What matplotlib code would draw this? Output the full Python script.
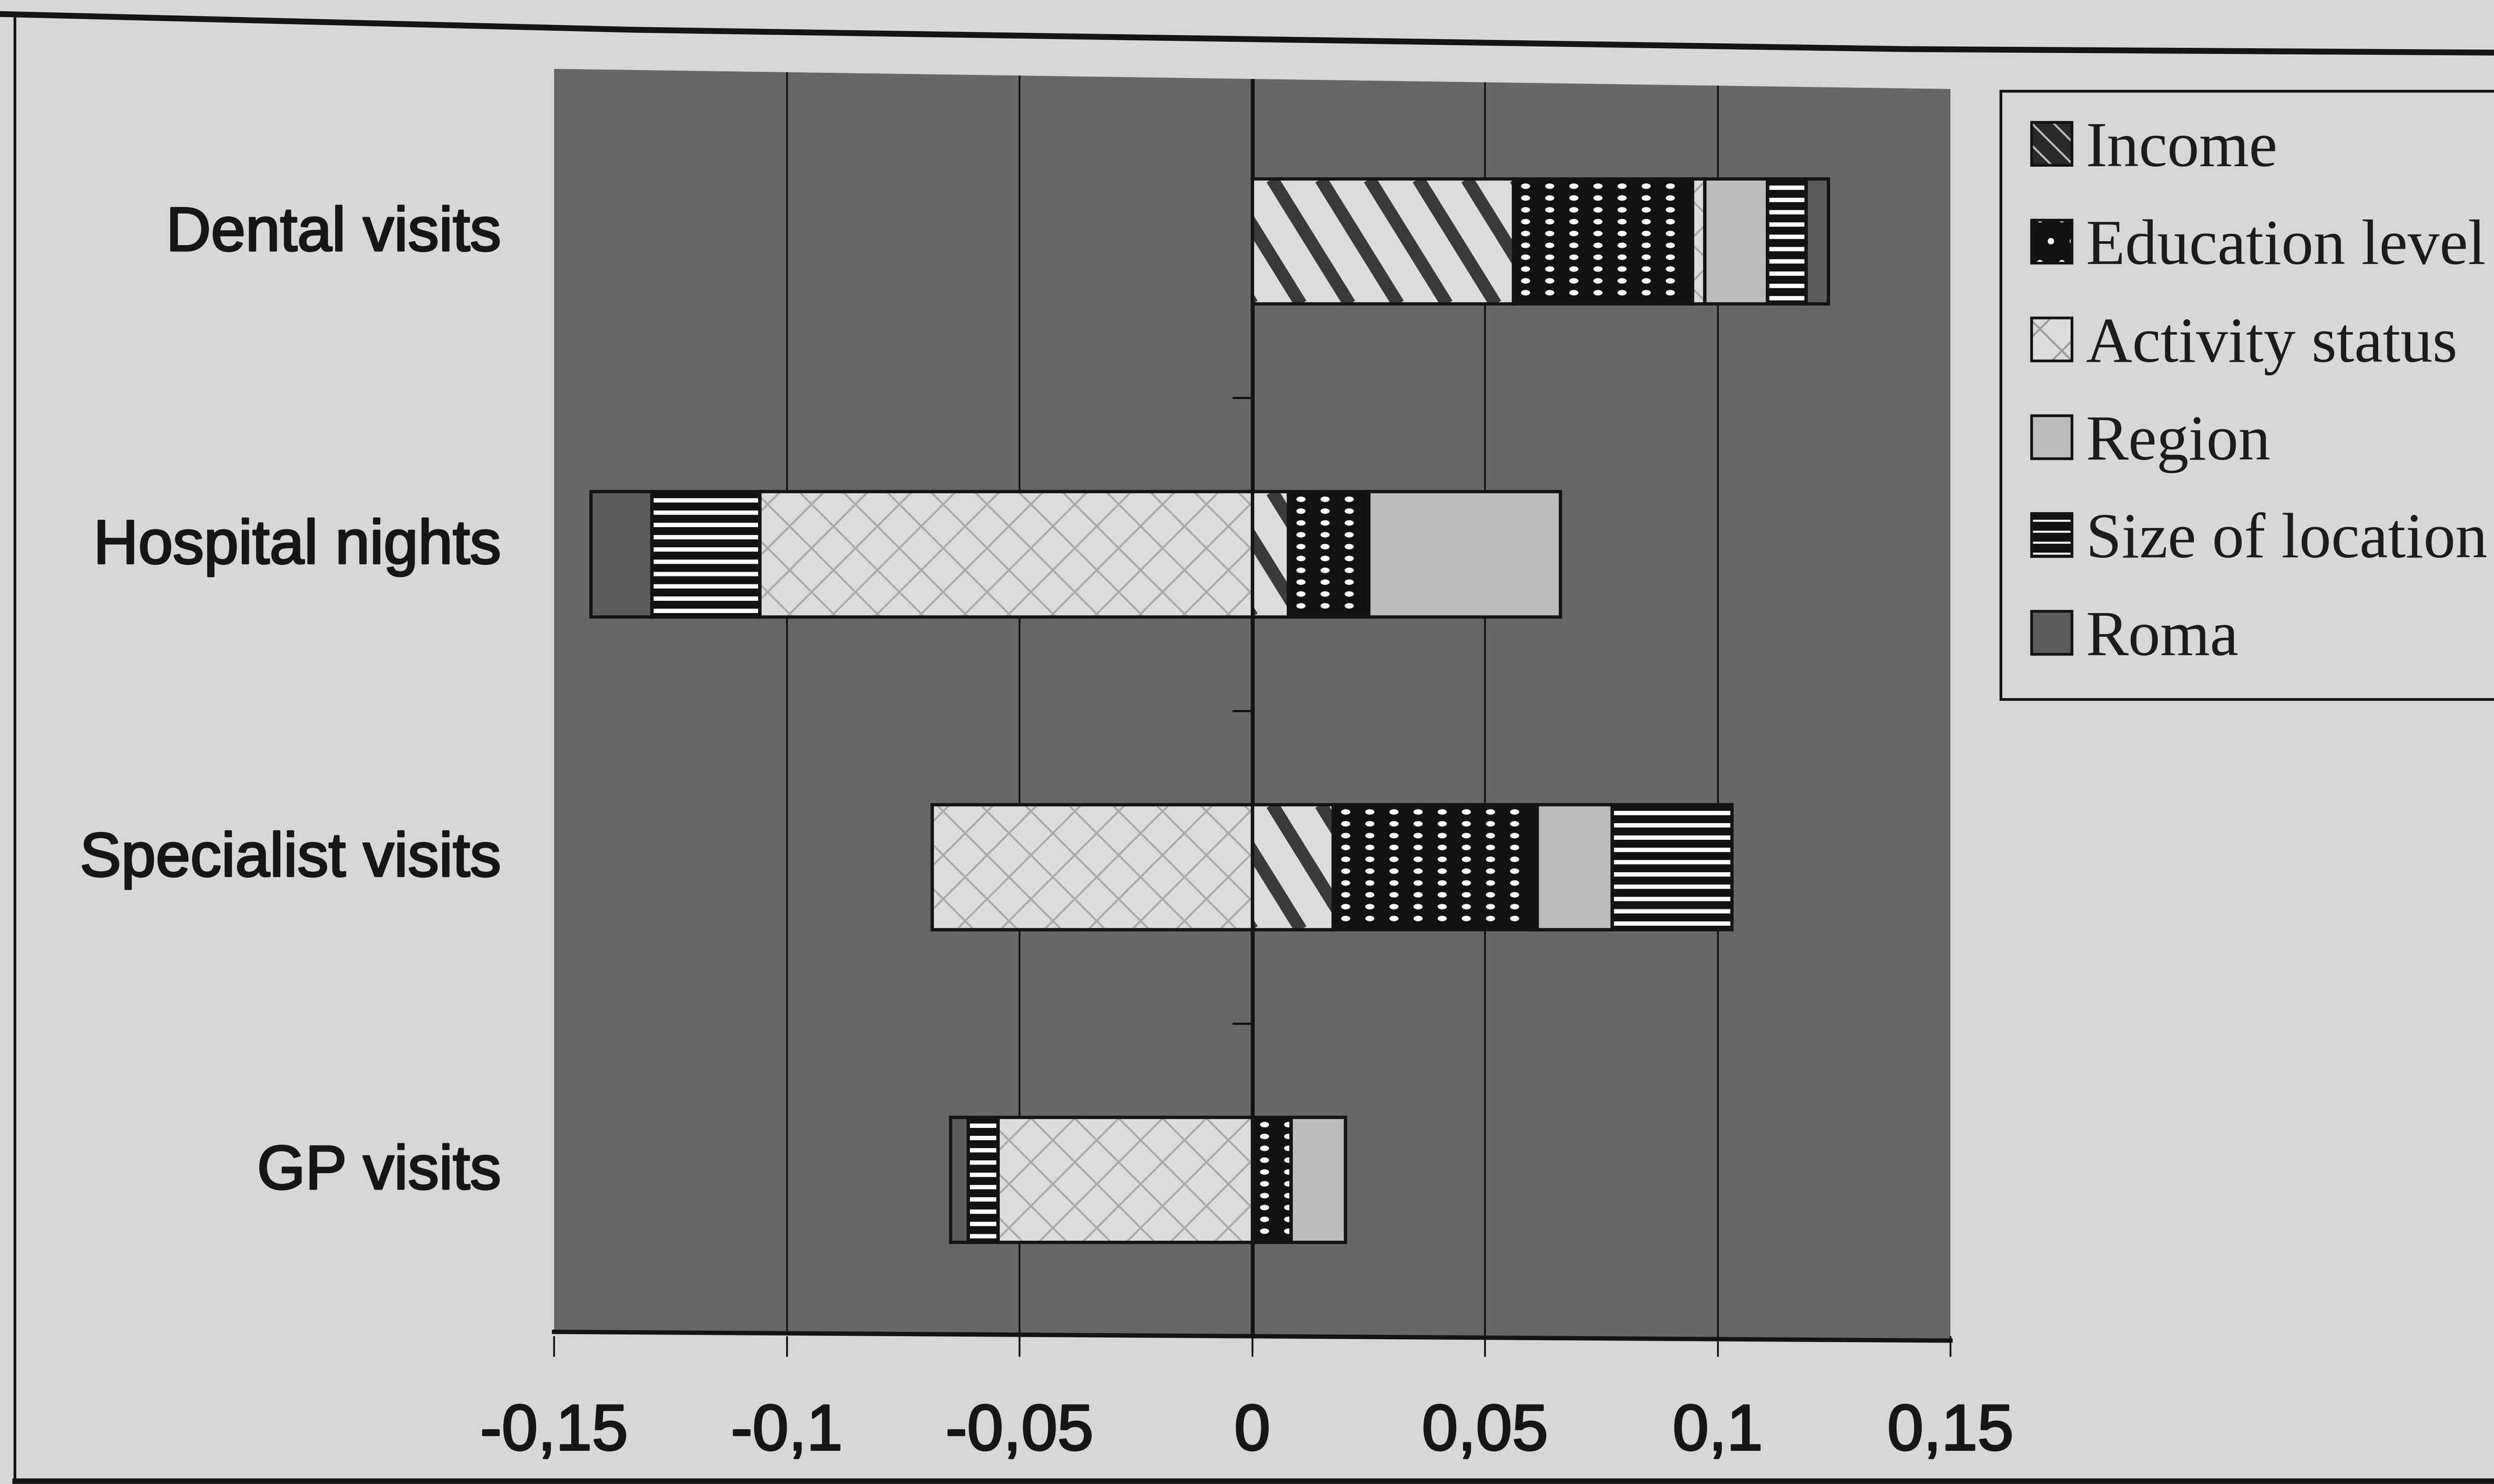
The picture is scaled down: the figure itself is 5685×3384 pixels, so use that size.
import numpy as np
import matplotlib
matplotlib.use("Agg")
import matplotlib.pyplot as plt
import matplotlib.markers as mmarkers
import matplotlib.patheffects as pe
from matplotlib import font_manager
from matplotlib.font_manager import FontProperties
from matplotlib.patches import Polygon, Patch
from matplotlib.collections import LineCollection
from matplotlib.lines import Line2D
from matplotlib.path import Path
from matplotlib.transforms import IdentityTransform, ScaledTranslation

# ---- data (contributions by factor, stacked left/right of zero) ----
categories = ["GP visits", "Specialist visits", "Hospital nights", "Dental visits"]
series_names = ["Income", "Education level", "Activity status", "Region",
                "Size of location", "Roma"]
income     = [0.0,     0.0174,  0.0078,  0.0561]
education  = [0.0083,  0.0438,  0.0172,  0.0385]
activity   = [-0.0546, -0.0688, -0.1058, 0.0026]
region     = [0.0117,  0.0161,  0.0412,  0.0135]
size_loc   = [-0.0064, 0.0258,  -0.0232, 0.0083]
roma       = [-0.0038, 0.0,     -0.0131, 0.0048]
xticks = [-0.15, -0.1, -0.05, 0, 0.05, 0.1, 0.15]
xtick_labels = ["-0,15", "-0,1", "-0,05", "0", "0,05", "0,1", "0,15"]

W, H, DPI = 5685, 3384, 300
PAGE = "#d7d7d7"
PLOT_BG = "#676767"
INK = "#141414"
LIGHT = "#dcdcdc"

plt.rcParams["hatch.linewidth"] = 1.1


def have_font(name):
    try:
        font_manager.findfont(FontProperties(family=name),
                              fallback_to_default=False)
        return True
    except Exception:
        return False


if have_font("Liberation Sans Narrow"):
    CAT_FONT, CAT_SIZE = "Liberation Sans Narrow", 40
else:
    CAT_FONT, CAT_SIZE = "Liberation Sans", 34

fig = plt.figure(figsize=(W / DPI, H / DPI), dpi=DPI, facecolor=PAGE)


def fx(px):
    return px / W


def fy(py):
    return 1 - py / H


# plot area
ax = fig.add_axes([fx(1263), fy(3047), fx(4446) - fx(1263), (3047 - 155) / H])
ax.patch.set_visible(False)
ax.set_xlim(-0.15, 0.15)
ax.set_ylim(-0.5, 3.555)
ax.set_autoscale_on(False)
for s in ax.spines.values():
    s.set_visible(False)

plot_bg = Polygon([(fx(1263), fy(157)), (fx(4446), fy(203)),
                   (fx(4446), fy(3057)), (fx(1263), fy(3037))],
                  closed=True, transform=fig.transFigure,
                  facecolor=PLOT_BG, edgecolor="none", zorder=-1)
fig.add_artist(plot_bg)

# gridlines and the zero axis
grid = ax.vlines([-0.1, -0.05, 0.05, 0.1], -0.5, 3.555, colors=INK,
                 linewidth=1.0, zorder=0.5)
grid.set_clip_path(plot_bg)
zero = ax.vlines([0], -0.5, 3.555, colors=INK, linewidth=2.2, zorder=0.6)
zero.set_clip_path(plot_bg)
ax.plot([0, 0, 0], [0.5, 1.5, 2.5], ls="none", marker=mmarkers.TICKLEFT,
        ms=11, mew=1.2, color=INK, zorder=0.7)

# bottom axis line
fig.add_artist(Line2D([fx(1263), fx(4446)], [fy(3037), fy(3057)],
                      color=INK, lw=2.4, transform=fig.transFigure))


# ---- textures drawn inside bar segments ----
def add_diagonals(patch, spacing=111, shift_ratio=157 / 253, lw=7.0,
                  color="#3a3a3a"):
    bb = patch.get_window_extent()
    h = bb.y1 - bb.y0
    shift = shift_ratio * h
    xs = np.arange(bb.x0 - shift - spacing, bb.x1 + spacing, spacing)
    segs = [[(x, bb.y1), (x + shift, bb.y0)] for x in xs]
    lc = LineCollection(segs, colors=color, linewidths=lw,
                        transform=IdentityTransform(), zorder=2.5)
    ax.add_collection(lc, autolim=False)
    lc.set_clip_path(patch)


def add_hstripes(patch, spacing=28, lw=2.4, color="white"):
    bb = patch.get_window_extent()
    ys = np.arange(bb.y1 - spacing * 0.7, bb.y0 + 4, -spacing)
    segs = [[(bb.x0, yy), (bb.x1, yy)] for yy in ys]
    lc = LineCollection(segs, colors=color, linewidths=lw,
                        transform=IdentityTransform(), zorder=2.5)
    ax.add_collection(lc, autolim=False)
    lc.set_clip_path(patch)


_circle = Path.unit_circle()
DOT = Path(_circle.vertices * np.array([1.0, 0.6]), _circle.codes)


def add_dots(patch, dx=55, dy=27, size=5.0, color="white"):
    bb = patch.get_window_extent()
    xs = np.arange(bb.x0 + dx * 0.5, bb.x1 - 4, dx)
    ys = np.arange(bb.y1 - dy * 0.6, bb.y0 + 4, -dy)
    if len(xs) == 0 or len(ys) == 0:
        return
    X, Y = np.meshgrid(xs, ys)
    sc = ax.scatter(X.ravel(), Y.ravel(), s=size ** 2, marker=DOT, c=color,
                    linewidths=0, transform=IdentityTransform(), zorder=2.5)
    sc.set_clip_path(patch)


styles = [
    dict(fc=LIGHT, texture=add_diagonals),
    dict(fc="#121212", texture=add_dots),
    dict(fc=LIGHT, hatch="x", hc="#ababab"),
    dict(fc="#bcbcbc"),
    dict(fc="#121212", texture=add_hstripes),
    dict(fc="#5c5c5c"),
]

series = [income, education, activity, region, size_loc, roma]
ypos = np.arange(len(categories))
bar_h = 0.40
pos_base = np.zeros(len(categories))
neg_base = np.zeros(len(categories))
for vals, st in zip(series, styles):
    vals = np.asarray(vals, dtype=float)
    left = np.where(vals >= 0, pos_base, neg_base)
    keep = vals != 0
    fill = ax.barh(ypos[keep], vals[keep], left=left[keep], height=bar_h,
                   color=st["fc"], edgecolor=st.get("hc", st["fc"]),
                   hatch=st.get("hatch"), linewidth=0, zorder=2)
    if "texture" in st:
        for p in fill.patches:
            st["texture"](p)
    ax.barh(ypos[keep], vals[keep], left=left[keep], height=bar_h,
            fill=False, edgecolor=INK, linewidth=1.8, zorder=3)
    pos_base += np.clip(vals, 0, None)
    neg_base += np.clip(vals, None, 0)

# ---- axes text ----
TEXT_INK = "#161616"
heavier = [pe.withStroke(linewidth=1.0, foreground=TEXT_INK)]
ax.set_xticks(xticks, xtick_labels)
ax.set_yticks(ypos, categories)
ax.tick_params(axis="x", direction="out", length=11.3, width=1.0, color=INK,
               pad=25, labelsize=35.5, labelcolor=TEXT_INK)
ax.tick_params(axis="y", length=0, pad=29, labelsize=CAT_SIZE,
               labelcolor=TEXT_INK)
for lbl in ax.get_xticklabels():
    lbl.set_fontfamily("Liberation Sans")
    lbl.set_path_effects(heavier)
for lbl in ax.get_yticklabels():
    lbl.set_fontfamily(CAT_FONT)
    lbl.set_path_effects(heavier)
    lbl.set_transform(lbl.get_transform()
                      + ScaledTranslation(0, 7.5 / 72, fig.dpi_scale_trans))


# ---- legend ----
def outline():
    return Patch(fill=False, edgecolor=INK, linewidth=1.5)


handles = [
    (Patch(facecolor="#2a2a2a", edgecolor="#bdbdbd", hatch="\\\\", lw=0), outline()),
    (Patch(facecolor="#121212", edgecolor="white", hatch=".", lw=0), outline()),
    (Patch(facecolor=LIGHT, edgecolor="#9c9c9c", hatch="x", lw=0), outline()),
    (Patch(facecolor="#bcbcbc", lw=0), outline()),
    (Patch(facecolor="#121212", edgecolor="white", hatch="--", lw=0), outline()),
    (Patch(facecolor="#5c5c5c", lw=0), outline()),
]
leg = fig.legend(handles, series_names, loc="upper left",
                 bbox_to_anchor=(fx(4561), fy(208)),
                 bbox_transform=fig.transFigure, frameon=True, fancybox=False,
                 shadow=False, borderpad=0.48, labelspacing=0.62,
                 handlelength=0.63, handleheight=0.66, handletextpad=0.22,
                 borderaxespad=0, framealpha=1, facecolor=PAGE,
                 edgecolor=INK, prop=dict(family="Liberation Serif", size=35))
leg.get_frame().set_linewidth(1.5)
for t in leg.get_texts():
    t.set_color("#1c1c1c")

# ---- outer chart frame ----
top_x = [0, 1450, 2900, 4350, 5685]
top_y = [32, 68, 90, 112, 120]
fig.add_artist(Line2D([fx(v) for v in top_x], [fy(v) for v in top_y],
                      color=INK, lw=3.2, transform=fig.transFigure))
fig.add_artist(Line2D([fx(34), fx(34)], [fy(33), fy(3377)], color=INK,
                      lw=1.5, transform=fig.transFigure))
fig.add_artist(Line2D([fx(34), 1.0], [fy(3377), fy(3377)], color=INK,
                      lw=3.0, transform=fig.transFigure))

fig.savefig("out.png", dpi=DPI, facecolor=PAGE)
